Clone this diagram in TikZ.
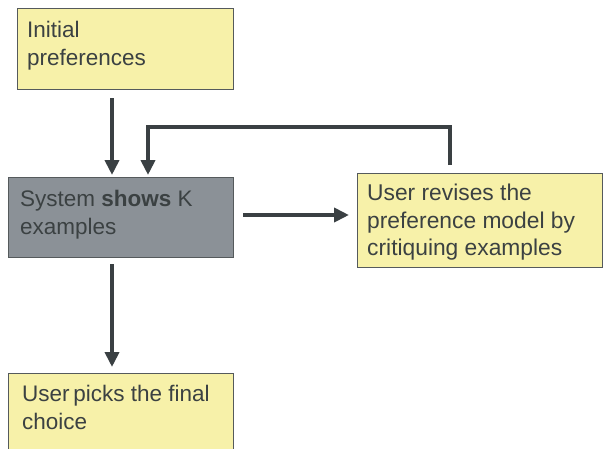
\documentclass[tikz,border=0pt]{standalone}
\usepackage{fontspec}
\setmainfont{Liberation Sans}
\usetikzlibrary{arrows.meta}
\definecolor{boxyellow}{HTML}{F7F1A9}
\definecolor{boxgray}{HTML}{8B9197}
\definecolor{txtcol}{HTML}{3B4142}
\definecolor{arrcol}{HTML}{3A4043}
\definecolor{edgecol}{HTML}{555A5C}
\tikzset{
  ybox/.style={draw=edgecol, line width=1pt, fill=boxyellow, anchor=north west, inner sep=0pt},
  gbox/.style={draw=edgecol, line width=1pt, fill=boxgray, anchor=north west, inner sep=0pt},
  lbl/.style={anchor=north west, inner sep=0pt, align=left, text=txtcol, font=\fontsize{22.5}{28}\selectfont},
  arr/.style={draw=arrcol, line width=4.5pt, -{Triangle[length=15pt,width=14pt]}},
}
\begin{document}
\begin{tikzpicture}[x=1pt,y=-1pt]
\useasboundingbox (0,0) rectangle (603,448);
\clip (0,0) rectangle (603,448);
% boxes
\node[ybox, minimum width=216pt, minimum height=81pt] (init) at (17,8) {};
\node[gbox, minimum width=225pt, minimum height=80pt] (sys) at (8,177) {};
\node[ybox, minimum width=245pt, minimum height=94pt] (rev) at (357,173) {};
\node[ybox, minimum width=225pt, minimum height=90pt] (pick) at (8,373) {};
% texts
\node[lbl] (initT) at (27,20.9) {Initial\\preferences};
\node[lbl] (sysT) at (20,189.9) {System \textbf{shows} K\\examples};
\node[lbl, font=\fontsize{22.8}{27.5}\selectfont] (revT) at (367,184.0) {User revises the\\preference model by\\critiquing examples};
\node[lbl] (pickT) at (22,384.9) {User\,picks the final\\choice};
% helper coordinates
\coordinate (c1) at (112,0);
\coordinate (c2) at (148,127);
\coordinate (c3) at (450,127);
\coordinate (c4) at (0,215);
% connectors
\draw[arr] ([yshift=-8pt]init.south -| c1) -- ([yshift=2pt]sys.north -| c1);
\draw[arr] ([yshift=8pt]rev.north -| c3) -- (c3) -- (c2) -- ([yshift=2pt]sys.north -| c2);
\draw[arr] ([xshift=9pt]sys.east |- c4) -- ([xshift=-8pt]rev.west |- c4);
\draw[arr] ([yshift=-6pt]sys.south -| c1) -- ([yshift=6pt]pick.north -| c1);
\end{tikzpicture}
\end{document}
